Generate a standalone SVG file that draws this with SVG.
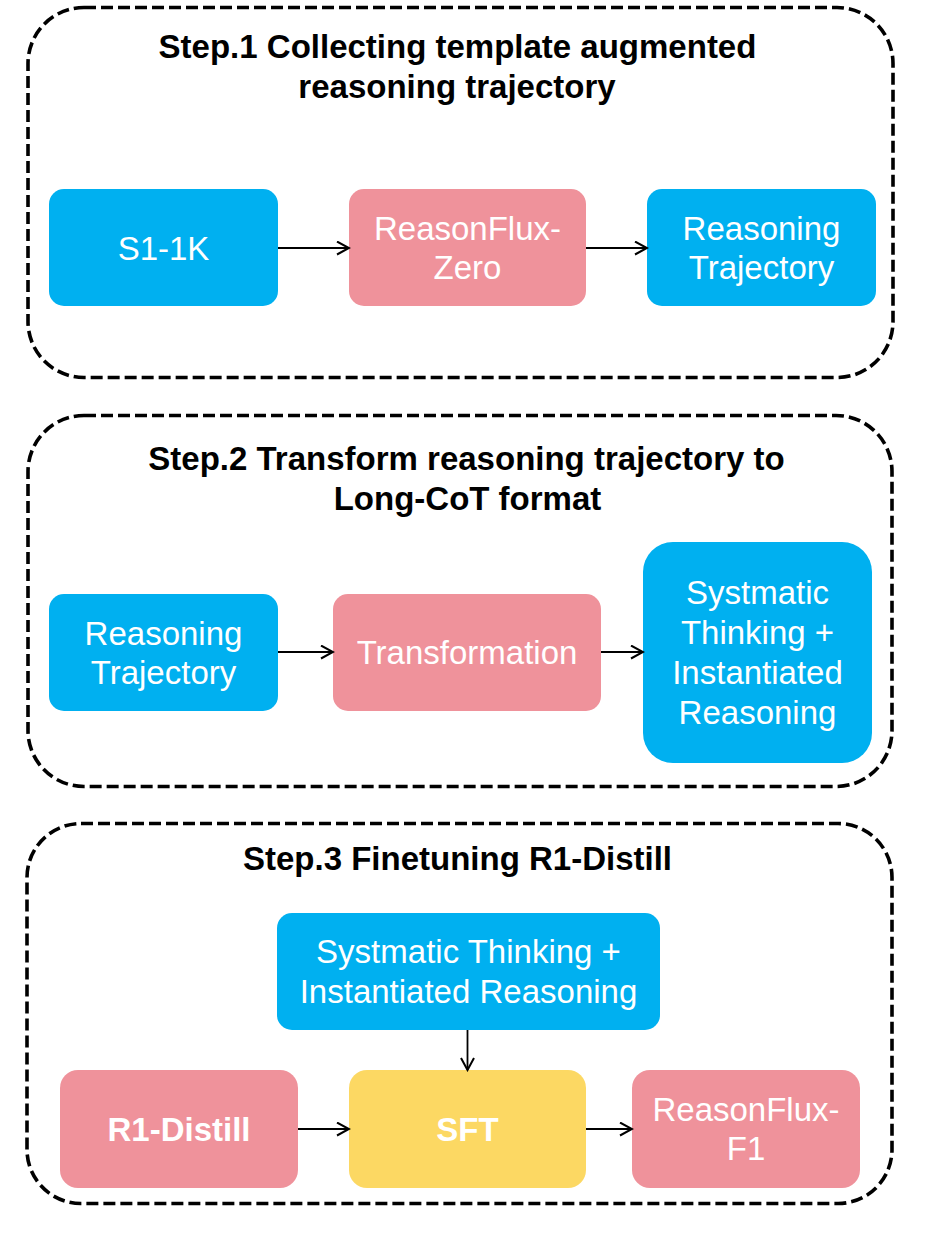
<svg xmlns="http://www.w3.org/2000/svg" width="945" height="1260" viewBox="0 0 945 1260">
<defs>
<marker id="arr" viewBox="0 0 15 15" refX="13.5" refY="7.5" markerWidth="15" markerHeight="15" markerUnits="userSpaceOnUse" orient="auto">
<path d="M1.5,1 L13.5,7.5 L1.5,14" fill="none" stroke="#000" stroke-width="2"/>
</marker>
<style>
.frame{fill:none;stroke:#000;stroke-width:3.6;stroke-dasharray:12 5}
.blue{fill:#00B0F0}
.pink{fill:#EF929B}
.yellow{fill:#FCD863}
.title{font-family:"Liberation Sans",Arial,sans-serif;font-weight:bold;font-size:33px;fill:#000;text-anchor:middle}
.lbl{font-family:"Liberation Sans",Arial,sans-serif;font-size:33px;fill:#fff;text-anchor:middle}
.bold{font-weight:bold}
.conn{fill:none;stroke:#000;stroke-width:1.8;marker-end:url(#arr)}
</style>
</defs>
<rect width="945" height="1260" fill="#fff"/>

<g id="step1">
<rect class="frame" x="28" y="7.5" width="865" height="370" rx="56" ry="56"/>
<text class="title" x="457.5" y="58">Step.1 Collecting template augmented</text>
<text class="title" x="457" y="98">reasoning trajectory</text>
</g>
<g id="step2">
<rect class="frame" x="28" y="415.5" width="864" height="371" rx="56" ry="56"/>
<text class="title" x="466.5" y="470">Step.2 Transform reasoning trajectory to</text>
<text class="title" x="467.5" y="510">Long-CoT format</text>
</g>
<g id="step3">
<rect class="frame" x="27" y="823.5" width="865" height="380" rx="54" ry="54"/>
<text class="title" x="457.5" y="870">Step.3 Finetuning R1-Distill</text>
</g>

<g id="n_s11k">
<rect class="blue" x="49" y="189" width="229" height="117" rx="15"/>
<text class="lbl" x="163.5" y="259.5">S1-1K</text>
</g>
<g id="n_rfzero">
<rect class="pink" x="349" y="189" width="237" height="117" rx="15"/>
<text class="lbl" x="467.5" y="239.5">ReasonFlux-</text>
<text class="lbl" x="467.5" y="278.5">Zero</text>
</g>
<g id="n_rt1">
<rect class="blue" x="647" y="189" width="229" height="117" rx="15"/>
<text class="lbl" x="761.5" y="239.5">Reasoning</text>
<text class="lbl" x="761.5" y="278.5">Trajectory</text>
</g>

<g id="n_rt2">
<rect class="blue" x="49" y="594" width="229" height="117" rx="15"/>
<text class="lbl" x="163.5" y="644.5">Reasoning</text>
<text class="lbl" x="163.5" y="683.5">Trajectory</text>
</g>
<g id="n_transform">
<rect class="pink" x="333" y="594" width="268" height="117" rx="15"/>
<text class="lbl" x="467" y="664">Transformation</text>
</g>
<g id="n_sys2">
<rect class="blue" x="643" y="542" width="229" height="221" rx="30"/>
<text class="lbl" x="757.5" y="603.5">Systmatic</text>
<text class="lbl" x="757.5" y="643.5">Thinking +</text>
<text class="lbl" x="757.5" y="683.5">Instantiated</text>
<text class="lbl" x="757.5" y="723.5">Reasoning</text>
</g>

<g id="n_sys3">
<rect class="blue" x="277" y="913" width="383" height="117" rx="15"/>
<text class="lbl" x="468.5" y="963">Systmatic Thinking +</text>
<text class="lbl" x="468.5" y="1002.5">Instantiated Reasoning</text>
</g>
<g id="n_r1">
<rect class="pink" x="60" y="1070" width="238" height="118" rx="18"/>
<text class="lbl bold" x="179" y="1141">R1-Distill</text>
</g>
<g id="n_sft">
<rect class="yellow" x="349" y="1070" width="237" height="118" rx="18"/>
<text class="lbl bold" x="467.5" y="1141">SFT</text>
</g>
<g id="n_f1">
<rect class="pink" x="632" y="1070" width="228" height="118" rx="18"/>
<text class="lbl" x="746" y="1120.5">ReasonFlux-</text>
<text class="lbl" x="746" y="1160">F1</text>
</g>

<g id="connectors">
<line class="conn" x1="278" y1="248" x2="349" y2="248"/>
<line class="conn" x1="586" y1="248" x2="647" y2="248"/>
<line class="conn" x1="278" y1="652" x2="333" y2="652"/>
<line class="conn" x1="601" y1="652" x2="643" y2="652"/>
<line class="conn" x1="467.5" y1="1030" x2="467.5" y2="1070"/>
<line class="conn" x1="298" y1="1129" x2="349" y2="1129"/>
<line class="conn" x1="586" y1="1129" x2="632" y2="1129"/>
</g>
</svg>
